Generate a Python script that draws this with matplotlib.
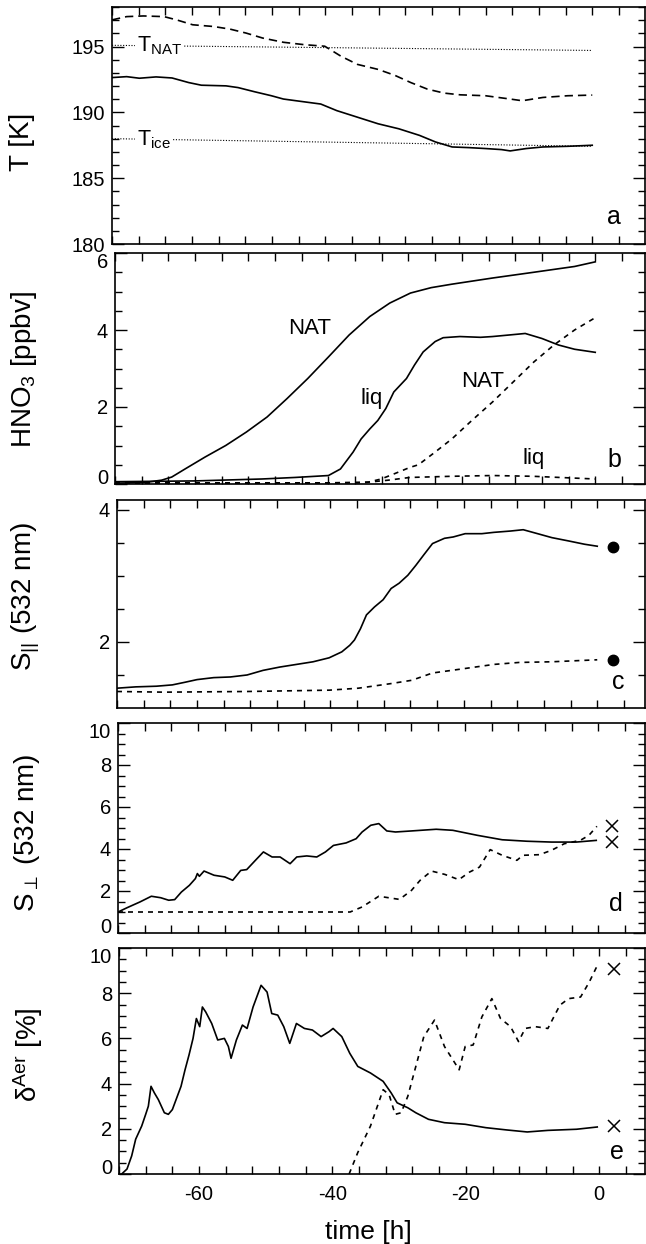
import matplotlib
matplotlib.use("Agg")
import matplotlib.pyplot as plt
from matplotlib.ticker import MultipleLocator

plt.rcParams['font.family'] = ['Liberation Sans', 'DejaVu Sans']
plt.rcParams['mathtext.fontset'] = 'custom'
plt.rcParams['mathtext.rm'] = 'Liberation Sans'
plt.rcParams['mathtext.it'] = 'Liberation Sans:italic'
plt.rcParams['mathtext.bf'] = 'Liberation Sans:bold'
plt.rcParams['axes.unicode_minus'] = False

#---------------panel a: temperature----------------#
ta_solid_t = [-72, -69.8, -67.9, -65.4, -63.0, -60.5, -58.6, -54.9, -53.1, -50.6, -48.1,
              -46.3, -44.4, -40.7, -38.3, -35.2, -32.1, -29.0, -25.9, -23.5, -21.0, -18.5,
              -16.0, -13.6, -12.3, -9.9, -7.4, -3.7, 0]
ta_solid = [192.64, 192.71, 192.59, 192.69, 192.61, 192.26, 192.06, 192.01, 191.88, 191.56,
            191.26, 191.01, 190.88, 190.63, 190.13, 189.63, 189.13, 188.75, 188.25, 187.75,
            187.37, 187.32, 187.25, 187.17, 187.07, 187.25, 187.37, 187.42, 187.50]
ta_dash_t = [-72, -69.8, -67.3, -64.2, -62.3, -59.9, -56.8, -54.3, -51.9, -49.4, -46.3, -43.2,
             -40.1, -37.7, -35.2, -32.1, -29.6, -27.2, -24.7, -22.2, -19.8, -16.0, -12.3,
             -10.5, -7.4, -3.7, 0]
ta_dash = [197.02, 197.27, 197.32, 197.27, 197.02, 196.65, 196.52, 196.32, 196.02, 195.64,
           195.32, 195.14, 195.02, 194.27, 193.64, 193.26, 192.81, 192.26, 191.76, 191.46,
           191.33, 191.26, 191.01, 190.88, 191.13, 191.26, 191.31]
t_ref = [-72, 0]
t_nat = [195.09, 194.70]
t_ice = [188.0, 187.42]

#---------------panel b: HNO3----------------#
tb_nat_t = [-72, -67.5, -65, -63.5, -61.5, -58.5, -55.4, -52.3, -49.2, -46.2, -43.1, -40.0,
            -36.9, -33.8, -30.8, -27.7, -24.6, -21.5, -15.4, -9.2, -3.1, 0]
tb_nat = [0.02, 0.04, 0.10, 0.18, 0.39, 0.70, 1.0, 1.35, 1.74, 2.22, 2.74, 3.30, 3.87, 4.35,
          4.70, 4.96, 5.10, 5.19, 5.35, 5.50, 5.65, 5.77]
tb_liq_t = [-72, -60, -50, -45, -40, -38.2, -36.3, -35.1, -33.8, -32.6, -31.4, -30.2, -28.3,
            -27.1, -25.8, -24.0, -22.8, -20.3, -17.2, -15.4, -11.7, -10.5, -8.0, -5.5, -3.1, 0]
tb_liq = [0.06, 0.08, 0.13, 0.17, 0.22, 0.39, 0.83, 1.17, 1.43, 1.65, 1.96, 2.39, 2.74, 3.09,
          3.43, 3.70, 3.80, 3.83, 3.81, 3.83, 3.89, 3.91, 3.78, 3.61, 3.50, 3.42]
tb_nat2_t = [-72, -40, -34, -32.1, -30.2, -27.8, -26.5, -24.0, -21.5, -18.5, -15.4, -12.3,
             -9.2, -6.2, -3.1, 0]
tb_nat2 = [0.03, 0.03, 0.05, 0.13, 0.26, 0.43, 0.50, 0.83, 1.17, 1.65, 2.13, 2.65, 3.17,
           3.61, 4.0, 4.32]
tb_liq2_t = [-72, -35, -31, -27.8, -21.6, -15.4, -9.3, -4, 0]
tb_liq2 = [0.02, 0.03, 0.10, 0.17, 0.20, 0.22, 0.20, 0.16, 0.13]

#---------------panel c: S parallel----------------#
tc_solid_t = [-72, -69.2, -66.1, -63.7, -61.8, -60.0, -57.5, -55.0, -52.5, -50.1, -47.6,
              -45.1, -42.6, -40.2, -38.3, -37.1, -36.4, -35.5, -34.6, -33.4, -32.1, -30.9,
              -29.7, -28.4, -27.2, -26.0, -24.7, -22.9, -21.6, -19.8, -17.3, -15.5, -13.0,
              -11.1, -9.3, -6.8, -4.3, -1.9, 0]
tc_solid = [1.30, 1.32, 1.33, 1.35, 1.39, 1.43, 1.46, 1.47, 1.50, 1.57, 1.62, 1.66, 1.70,
            1.76, 1.85, 1.95, 2.03, 2.20, 2.41, 2.53, 2.64, 2.81, 2.89, 3.01, 3.16, 3.32,
            3.49, 3.57, 3.59, 3.64, 3.64, 3.66, 3.68, 3.70, 3.65, 3.58, 3.53, 3.48, 3.45]
tc_dash_t = [-72, -64.9, -52.5, -40.2, -35.8, -30.9, -27.8, -24.7, -20.4, -15.5, -11.7, -6.8, 0]
tc_dash = [1.25, 1.24, 1.25, 1.27, 1.30, 1.37, 1.42, 1.53, 1.59, 1.66, 1.69, 1.70, 1.73]
tc_obs_t = [2.3, 2.3]
tc_obs = [3.44, 1.72]

#---------------panel d: S perpendicular----------------#
td_solid_t = [-72, -70.6, -68.7, -67.0, -65.6, -64.4, -63.5, -62.5, -61.3, -60.4, -60.1,
              -59.8, -59.1, -57.6, -56.0, -54.8, -53.6, -52.7, -51.4, -50.2, -48.9, -47.7,
              -46.2, -45.2, -43.7, -42.2, -40.9, -39.7, -37.8, -36.3, -35.4, -34.1, -32.9,
              -31.7, -30.4, -28.0, -24.3, -21.8, -18.1, -14.4, -10.7, -7.0, -3.3, -0.3]
td_solid = [1.0, 1.21, 1.48, 1.75, 1.68, 1.56, 1.59, 1.95, 2.27, 2.59, 2.83, 2.70, 2.95,
            2.75, 2.67, 2.51, 2.98, 3.02, 3.46, 3.86, 3.62, 3.62, 3.30, 3.62, 3.67, 3.62,
            3.86, 4.17, 4.29, 4.49, 4.81, 5.13, 5.21, 4.86, 4.81, 4.86, 4.94, 4.89, 4.65,
            4.44, 4.37, 4.33, 4.33, 4.41]
td_dash_t = [-72, -37.2, -35.4, -32.9, -29.8, -28.0, -26.7, -25.0, -23.0, -20.9, -19.3,
             -17.8, -16.2, -14.4, -12.2, -11.3, -8.8, -7.0, -5.1, -2.7, -1.4, -0.2]
td_dash = [1.0, 1.0, 1.24, 1.75, 1.60, 2.03, 2.51, 2.95, 2.79, 2.54, 2.90, 3.14, 3.97, 3.70,
           3.46, 3.70, 3.73, 3.94, 4.25, 4.41, 4.65, 5.08]
td_obs_t = [2.1, 2.1]
td_obs = [5.08, 4.33]

#---------------panel e: delta aer----------------#
te_solid_t = [-71.6, -70.8, -70.1, -69.5, -68.6, -68.0, -67.6, -67.2, -66.7, -66.1, -65.2,
              -64.6, -64.0, -62.7, -62.1, -61.5, -60.9, -60.4, -59.9, -59.5, -59.0, -58.1,
              -57.2, -56.2, -55.6, -55.2, -54.4, -53.5, -52.8, -51.9, -50.7, -49.8, -49.1,
              -48.2, -47.3, -46.4, -45.4, -44.2, -43.0, -41.7, -40.5, -39.9, -38.6, -37.4,
              -36.2, -34.3, -32.4, -31.2, -30.3, -28.7, -27.5, -25.6, -23.2, -20.1, -17.0,
              -13.9, -10.8, -7.7, -3.4, -0.3]
te_solid = [0.0, 0.22, 0.80, 1.54, 2.12, 2.64, 3.0, 3.88, 3.59, 3.29, 2.71, 2.64, 2.85,
            3.88, 4.61, 5.27, 6.0, 6.88, 6.52, 7.39, 7.17, 6.66, 5.93, 6.0, 5.64, 5.12,
            5.93, 6.59, 6.44, 7.39, 8.35, 8.05, 7.10, 7.03, 6.52, 5.78, 6.66, 6.44, 6.37,
            6.08, 6.30, 6.44, 6.08, 5.34, 4.76, 4.47, 4.10, 3.59, 3.15, 2.93, 2.71, 2.42,
            2.27, 2.20, 2.05, 1.95, 1.86, 1.93, 1.98, 2.08]
te_dash_t = [-37.5, -36.2, -34.3, -32.4, -31.5, -30.6, -29.7, -28.7, -27.5, -26.3, -24.7,
             -23.2, -21.0, -20.1, -18.9, -17.6, -16.1, -14.8, -13.3, -12.1, -11.1, -9.6,
             -7.7, -5.9, -4.6, -2.8, -1.5, -0.3]
te_dash = [0.0, 0.95, 2.12, 3.73, 3.51, 2.64, 2.71, 3.44, 4.76, 6.08, 6.81, 5.64, 4.61,
           5.64, 5.71, 6.95, 7.76, 6.88, 6.52, 5.86, 6.44, 6.52, 6.44, 7.47, 7.76, 7.83,
           8.49, 9.22]
te_obs_t = [2.2, 2.2]
te_obs = [9.05, 2.12]

#---------------layout (pixels of the 646x1244 picture)----------------#
W, H = 646, 1244
lefts = [112, 115, 117, 118, 119]
tops = [7, 253, 500, 723, 948]
bottoms = [244, 484, 708, 933, 1174]
right = 645
px_per_h = 6.67

fig = plt.figure(figsize=(W / 100, H / 100), dpi=100)
axes = []
for l, t, b in zip(lefts, tops, bottoms):
    ax = fig.add_axes([l / W, 1 - b / H, (right - l) / W, (b - t) / H])
    ax.set_xlim(-72, -72 + (right - l) / px_per_h)
    axes.append(ax)
ax_a, ax_b, ax_c, ax_d, ax_e = axes

lw = 1.2
long_dash = (5, 3)
short_dash = (3, 3)

# a
ax_a.plot(ta_solid_t, ta_solid, color='k', lw=lw)
ax_a.plot(ta_dash_t, ta_dash, color='k', lw=lw, dashes=long_dash)
ax_a.plot(t_ref, t_nat, color='k', lw=0.8, dashes=(1, 1.5))
ax_a.plot(t_ref, t_ice, color='k', lw=0.8, dashes=(1, 1.5))
ax_a.text(-68.3, 194.65, r'T$_{\mathrm{NAT}}$', fontsize=15.5, va='baseline', ha='left',
          bbox=dict(facecolor='white', edgecolor='none', pad=1.5))
ax_a.text(-68.3, 187.5, r'T$_{\mathrm{ice}}$', fontsize=15.5, va='baseline', ha='left',
          bbox=dict(facecolor='white', edgecolor='none', pad=1.5))
ax_a.set_ylim(180, 198)
ax_a.set_yticks([180, 185, 190, 195])
ax_a.yaxis.set_minor_locator(MultipleLocator(1))

# b
ax_b.plot(tb_nat_t, tb_nat, color='k', lw=lw)
ax_b.plot(tb_liq_t, tb_liq, color='k', lw=lw)
ax_b.plot(tb_nat2_t, tb_nat2, color='k', lw=lw, dashes=short_dash)
ax_b.plot(tb_liq2_t, tb_liq2, color='k', lw=lw, dashes=short_dash)
ax_b.text(-42.8, 4.04, 'NAT', fontsize=16, ha='center', va='center')
ax_b.text(-33.5, 2.22, 'liq', fontsize=16, ha='center', va='center')
ax_b.text(-16.9, 2.65, 'NAT', fontsize=16, ha='center', va='center')
ax_b.text(-9.2, 0.65, 'liq', fontsize=16, ha='center', va='center')
ax_b.set_ylim(0, 6)
ax_b.set_yticks([0, 2, 4, 6])
ax_b.yaxis.set_minor_locator(MultipleLocator(0.5))

# c
ax_c.plot(tc_solid_t, tc_solid, color='k', lw=lw)
ax_c.plot(tc_dash_t, tc_dash, color='k', lw=lw, dashes=short_dash)
ax_c.plot(tc_obs_t, tc_obs, 'o', color='k', ms=7.5, clip_on=False)
ax_c.set_ylim(1.0, 4.15)
ax_c.set_yticks([2, 4])
ax_c.set_yticks([1.5, 2.5, 3.0, 3.5], minor=True)

# d
ax_d.plot(td_solid_t, td_solid, color='k', lw=lw)
ax_d.plot(td_dash_t, td_dash, color='k', lw=lw, dashes=short_dash)
ax_d.plot(td_obs_t, td_obs, 'x', color='k', ms=8, mew=1.1, clip_on=False)
ax_d.set_ylim(0, 10)
ax_d.set_yticks([0, 2, 4, 6, 8, 10])
ax_d.yaxis.set_minor_locator(MultipleLocator(0.5))

# e
ax_e.plot(te_solid_t, te_solid, color='k', lw=lw)
ax_e.plot(te_dash_t, te_dash, color='k', lw=lw, dashes=short_dash)
ax_e.plot(te_obs_t, te_obs, 'x', color='k', ms=8, mew=1.1, clip_on=False)
ax_e.set_ylim(0, 10)
ax_e.set_yticks([0, 2, 4, 6, 8, 10])
ax_e.yaxis.set_minor_locator(MultipleLocator(0.5))

for ax, letter, lx, ly in zip(axes, 'abcde', [0.942, 0.942, 0.949, 0.945, 0.947],
                              [0.114, 0.104, 0.125, 0.138, 0.097]):
    ax.xaxis.set_major_locator(MultipleLocator(20))
    ax.xaxis.set_minor_locator(MultipleLocator(4))
    ax.tick_params(axis='x', which='both', direction='in', top=True, bottom=True,
                   length=6, width=1.0, labelsize=14.5, pad=8)
    ax.tick_params(axis='y', which='major', direction='in', left=True, right=True,
                   length=8.5, width=1.0, labelsize=14.5, pad=5)
    ax.tick_params(axis='y', which='minor', direction='in', left=True, right=True,
                   length=5, width=1.0)
    for s in ax.spines.values():
        s.set_linewidth(1.2)
    if ax is not ax_e:
        ax.tick_params(axis='x', labelbottom=False)
    ax.text(lx, ly, letter, transform=ax.transAxes, fontsize=18, ha='center', va='center')

# end labels pulled inside the frame, as in the original
for ax in [ax_b, ax_d, ax_e]:
    labs = ax.get_yticklabels()
    labs[0].set_va('baseline')
    labs[-1].set_va('top')

ylabels = ['T [K]', r'HNO$_3$ [ppbv]', r'S$_{||}$ (532 nm)', r'S$_{\perp}$ (532 nm)',
           r'δ$^{\mathrm{Aer}}$ [%]']
ylab_x = [22, 24, 26, 27, 28]
ylab_y = [142, 370, 597, 833, 1055]
for txt, x, y in zip(ylabels, ylab_x, ylab_y):
    fig.text(x / W, 1 - y / H, txt, rotation=90, fontsize=20, ha='center', va='center')

fig.text(368 / W, 1 - 1232 / H, 'time [h]', fontsize=19, ha='center', va='center')

fig.savefig('out.png', dpi=100)
